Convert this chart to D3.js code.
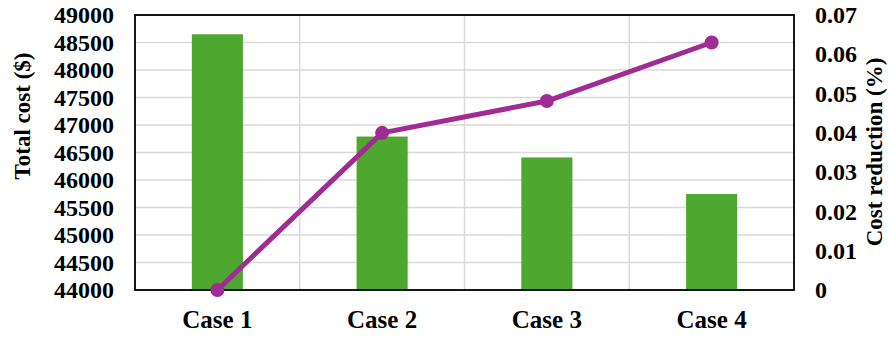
<!DOCTYPE html>
<html>
<head>
<meta charset="utf-8">
<script src="https://cdn.jsdelivr.net/npm/d3@7"></script>
<style>
  body { margin: 0; background: #fff; }
</style>
</head>
<body>
<svg id="chart" width="888" height="338"></svg>
<script>
// values
var cases = ["Case 1", "Case 2", "Case 3", "Case 4"];
var totalCost = [48650, 46790, 46410, 45745];
var costReduction = [0, 0.040, 0.0481, 0.063];
var leftTicks = [44000, 44500, 45000, 45500, 46000, 46500, 47000, 47500, 48000, 48500, 49000];
var rightTicks = [0, 0.01, 0.02, 0.03, 0.04, 0.05, 0.06, 0.07];

var FONT = "'Liberation Serif', 'Times New Roman', Times, 'DejaVu Serif', serif";

var svg = d3.select("#chart");
var m = {left: 135, right: 794, top: 15, bottom: 290};

var x = d3.scaleBand().domain(cases).range([m.left, m.right]).paddingInner(0).paddingOuter(0);
var yL = d3.scaleLinear().domain([44000, 49000]).range([m.bottom, m.top]);
var yR = d3.scaleLinear().domain([0, 0.07]).range([m.bottom, m.top]);

// gridlines
svg.append("g").selectAll("line.h").data(leftTicks).enter().append("line")
    .attr("x1", m.left).attr("x2", m.right)
    .attr("y1", function(d){ return yL(d); }).attr("y2", function(d){ return yL(d); })
    .attr("stroke", "#d9d9d9").attr("stroke-width", 1.5);
svg.append("g").selectAll("line.v").data(cases.slice(1)).enter().append("line")
    .attr("x1", function(d){ return x(d); }).attr("x2", function(d){ return x(d); })
    .attr("y1", m.top).attr("y2", m.bottom)
    .attr("stroke", "#d9d9d9").attr("stroke-width", 1.5);

// bars
var bw = x.bandwidth() * 0.31;
svg.append("g").selectAll("rect").data(totalCost).enter().append("rect")
    .attr("x", function(d, i){ return x(cases[i]) + x.bandwidth() / 2 - bw / 2; })
    .attr("y", function(d){ return yL(d); })
    .attr("width", bw)
    .attr("height", function(d){ return yL(44000) - yL(d); })
    .attr("fill", "#4ea72e");

// frame
svg.append("rect").attr("x", m.left).attr("y", m.top)
    .attr("width", m.right - m.left).attr("height", m.bottom - m.top)
    .attr("fill", "none").attr("stroke", "#000").attr("stroke-width", 1.8);

// line series
var line = d3.line()
    .x(function(d, i){ return x(cases[i]) + x.bandwidth() / 2; })
    .y(function(d){ return yR(d); });
svg.append("path").datum(costReduction).attr("d", line)
    .attr("fill", "none").attr("stroke", "#a02b93").attr("stroke-width", 5)
    .attr("stroke-linejoin", "round");
svg.append("g").selectAll("circle").data(costReduction).enter().append("circle")
    .attr("cx", function(d, i){ return x(cases[i]) + x.bandwidth() / 2; })
    .attr("cy", function(d){ return yR(d); })
    .attr("r", 7).attr("fill", "#a02b93");

function styleText(g, size) {
    g.attr("font-family", FONT).attr("font-size", size).attr("font-weight", "bold");
    g.selectAll("text").attr("fill", "#000");
}

// axes
var axL = d3.axisLeft(yL).tickValues(leftTicks).tickSize(0).tickPadding(21).tickFormat(d3.format("d"));
var gL = svg.append("g").attr("transform", "translate(" + m.left + ",0)").call(axL);
gL.select(".domain").remove();
styleText(gL, 24);

var axR = d3.axisRight(yR).tickValues(rightTicks).tickSize(0).tickPadding(21)
    .tickFormat(function(d){ return d === 0 ? "0" : d3.format(".2f")(d); });
var gR = svg.append("g").attr("transform", "translate(" + m.right + ",0)").call(axR);
gR.select(".domain").remove();
styleText(gR, 24);

var axB = d3.axisBottom(x).tickSize(0).tickPadding(20);
var gB = svg.append("g").attr("transform", "translate(0," + m.bottom + ")").call(axB);
gB.select(".domain").remove();
styleText(gB, 25);

// axis titles
var titles = svg.append("g");
titles.append("text").attr("transform", "translate(30,116) rotate(-90)")
    .attr("text-anchor", "middle").text("Total cost ($)");
titles.append("text").attr("transform", "translate(882,152) rotate(-90)")
    .attr("text-anchor", "middle").text("Cost reduction (%)");
styleText(titles, 23);
</script>
</body>
</html>
